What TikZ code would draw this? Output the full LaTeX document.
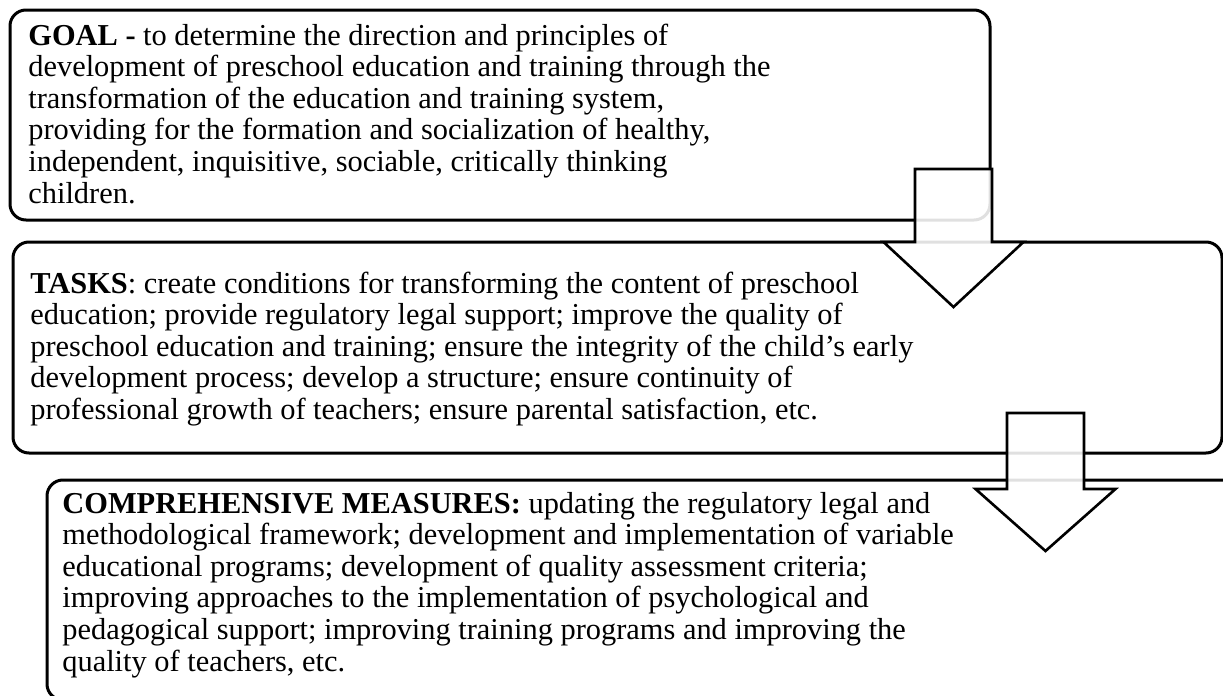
\documentclass[tikz,border=0pt]{standalone}
\usepackage{fontspec}
\setmainfont{Liberation Serif}
\usetikzlibrary{positioning}

\begin{document}
\begin{tikzpicture}
	[x=0.5pt,y=-0.5pt,
	box node/.style={shape=rectangle,draw,line width=1.5pt,rounded corners=8pt,inner sep=0pt},
	text node/.style={anchor=base west,inner sep=0pt,align=left,font=\fontsize{15.2}{15.8}\selectfont},
	block arrow/.style={draw,line width=1.3pt,fill=white,fill opacity=0.88,line join=miter}]
	\useasboundingbox (0,0) rectangle (1223,696);
	\clip (0,0) rectangle (1223,696);
	
	% the three boxes
	\node [box node,minimum width=490pt,minimum height=105pt] (goal) at (500,115) {};
	\node [box node,minimum width=604.5pt,minimum height=105.5pt] (tasks) at (617.5,347.5) {};
	\node [box node,minimum width=626.5pt,minimum height=110pt] (measures) at (673.5,590) {};
	
	% texts, placed at the baseline of their last line
	\node [text node] (goal text) at (28,203) {\textbf{GOAL -} to determine the direction and principles of\\
	development of preschool education and training through the\\
	transformation of the education and training system,\\
	providing for the formation and socialization of healthy,\\
	independent, inquisitive, sociable, critically thinking\\
	children.};
	\node [text node] (tasks text) at (30,419.5) {\textbf{TASKS}: create conditions for transforming the content of preschool\\
	education; provide regulatory legal support; improve the quality of\\
	preschool education and training; ensure the integrity of the child’s early\\
	development process; develop a structure; ensure continuity of\\
	professional growth of teachers; ensure parental satisfaction, etc.};
	\node [text node] (measures text) at (62,671) {\textbf{COMPREHENSIVE MEASURES:} updating the regulatory legal and\\
	methodological framework; development and implementation of variable\\
	educational programs; development of quality assessment criteria;\\
	improving approaches to the implementation of psychological and\\
	pedagogical support; improving training programs and improving the\\
	quality of teachers, etc.};
	
	% arrows between the boxes
	\coordinate (a1) at (953.5,169);
	\coordinate (a2) at (1045.5,413);
	\draw [block arrow] (a1) ++(-38.5,0) -- ++(0,73) -- ++(-31.5,0) -- ++(70,65) -- ++(70,-65) -- ++(-31.5,0) -- ++(0,-73) -- cycle;
	\draw [block arrow] (a2) ++(-38.5,0) -- ++(0,76) -- ++(-31.5,0) -- ++(70,62) -- ++(70,-62) -- ++(-31.5,0) -- ++(0,-76) -- cycle;
	
\end{tikzpicture}
\end{document}
